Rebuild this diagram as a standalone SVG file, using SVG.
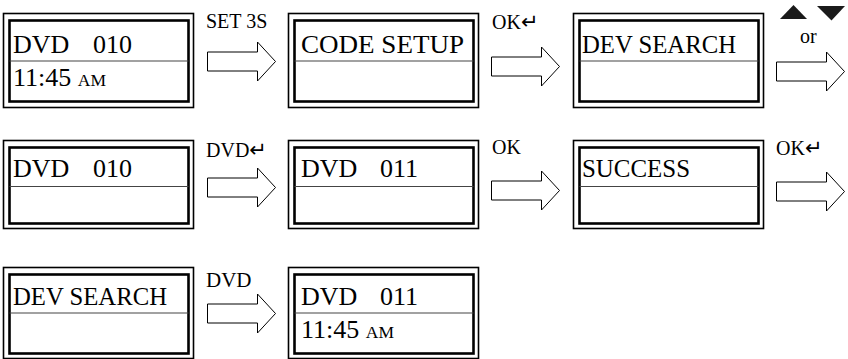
<svg xmlns="http://www.w3.org/2000/svg" width="848" height="359" viewBox="0 0 848 359">
<style>
.o{fill:none;stroke:#000;stroke-width:1.6}
.i{fill:none;stroke:#000;stroke-width:2.6}
.d{stroke:#444;stroke-width:1.2}
.t{font-family:'Liberation Serif','DejaVu Serif',serif;font-size:26px;fill:#000}
.sc{font-size:17.5px}
.l{font-family:'Liberation Serif','DejaVu Serif',serif;font-size:20px;fill:#000}
.ar{font-family:'DejaVu Sans',sans-serif;font-size:21px}
.arw{fill:#fff;stroke:#000;stroke-width:1}
</style>
<defs>
<path id="arrow" class="arw" d="M0,-9.5 H50 V-19.5 L68,0 L50,19.5 V9.5 H0 Z"/>
</defs>
<g id="connectors">
<use href="#arrow" x="207.5" y="61.5"/>
<use href="#arrow" x="491.5" y="66.5"/>
<use href="#arrow" x="776.5" y="71.5"/>
<use href="#arrow" x="207.5" y="187.5"/>
<use href="#arrow" x="491.5" y="190.5"/>
<use href="#arrow" x="776.5" y="191.5"/>
<use href="#arrow" x="207.5" y="313.5"/>
<text class="l" x="206" y="28">SET 3S</text>
<text class="l" x="492" y="29">OK<tspan class="ar">↵</tspan></text>
<polygon points="780,19 793.5,5 807,19" fill="#1a1a1a"/>
<polygon points="817,6 845,6 831.5,20.5" fill="#1a1a1a"/>
<text class="l" x="800" y="43">or</text>
<text class="l" x="206" y="157">DVD<tspan class="ar">↵</tspan></text>
<text class="l" x="492" y="154">OK</text>
<text class="l" x="776" y="155">OK<tspan class="ar">↵</tspan></text>
<text class="l" x="206" y="287" style="font-size:21px">DVD</text>
</g>
<g id="n1">
<rect class="o" x="3.5" y="13.5" width="190" height="94"/>
<rect class="i" x="9.5" y="20.5" width="179" height="81"/>
<line class="d" x1="9.5" y1="61" x2="188.5" y2="61"/>
<text class="t" x="13" y="53">DVD</text><text class="t" x="93" y="53">010</text>
<text class="t" x="13" y="86">11:45 <tspan class="sc">AM</tspan></text>
</g>
<g id="n2">
<rect class="o" x="288.5" y="13.5" width="190" height="94"/>
<rect class="i" x="294.5" y="20.5" width="179" height="81"/>
<line class="d" x1="294.5" y1="61" x2="473.5" y2="61"/>
<text class="t" x="301" y="53" textLength="163" lengthAdjust="spacingAndGlyphs">CODE SETUP</text>
</g>
<g id="n3">
<rect class="o" x="573.5" y="13.5" width="190" height="94"/>
<rect class="i" x="579.5" y="20.5" width="179" height="81"/>
<line class="d" x1="579.5" y1="61" x2="758.5" y2="61"/>
<text class="t" x="582" y="53" textLength="154" lengthAdjust="spacingAndGlyphs">DEV SEARCH</text>
</g>
<g id="n4">
<rect class="o" x="3.5" y="140.5" width="190" height="88"/>
<rect class="i" x="9.5" y="147.5" width="179" height="76"/>
<line class="d" x1="9.5" y1="186.5" x2="188.5" y2="186.5"/>
<text class="t" x="13" y="177">DVD</text><text class="t" x="93" y="177">010</text>
</g>
<g id="n5">
<rect class="o" x="288.5" y="140.5" width="190" height="88"/>
<rect class="i" x="294.5" y="147.5" width="179" height="76"/>
<line class="d" x1="294.5" y1="186.5" x2="473.5" y2="186.5"/>
<text class="t" x="301" y="177">DVD</text><text class="t" x="380" y="177">011</text>
</g>
<g id="n6">
<rect class="o" x="573.5" y="140.5" width="190" height="88"/>
<rect class="i" x="579.5" y="147.5" width="179" height="76"/>
<line class="d" x1="579.5" y1="186.5" x2="758.5" y2="186.5"/>
<text class="t" x="582" y="177" textLength="108" lengthAdjust="spacingAndGlyphs">SUCCESS</text>
</g>
<g id="n7">
<rect class="o" x="3.5" y="267.5" width="190" height="91"/>
<rect class="i" x="9.5" y="274.5" width="179" height="79"/>
<line class="d" x1="9.5" y1="313" x2="188.5" y2="313"/>
<text class="t" x="13" y="305" textLength="154" lengthAdjust="spacingAndGlyphs">DEV SEARCH</text>
</g>
<g id="n8">
<rect class="o" x="288.5" y="267.5" width="190" height="91"/>
<rect class="i" x="294.5" y="274.5" width="179" height="79"/>
<line class="d" x1="294.5" y1="313" x2="473.5" y2="313"/>
<text class="t" x="301" y="305">DVD</text><text class="t" x="380" y="305">011</text>
<text class="t" x="301" y="338">11:45 <tspan class="sc">AM</tspan></text>
</g>
</svg>
